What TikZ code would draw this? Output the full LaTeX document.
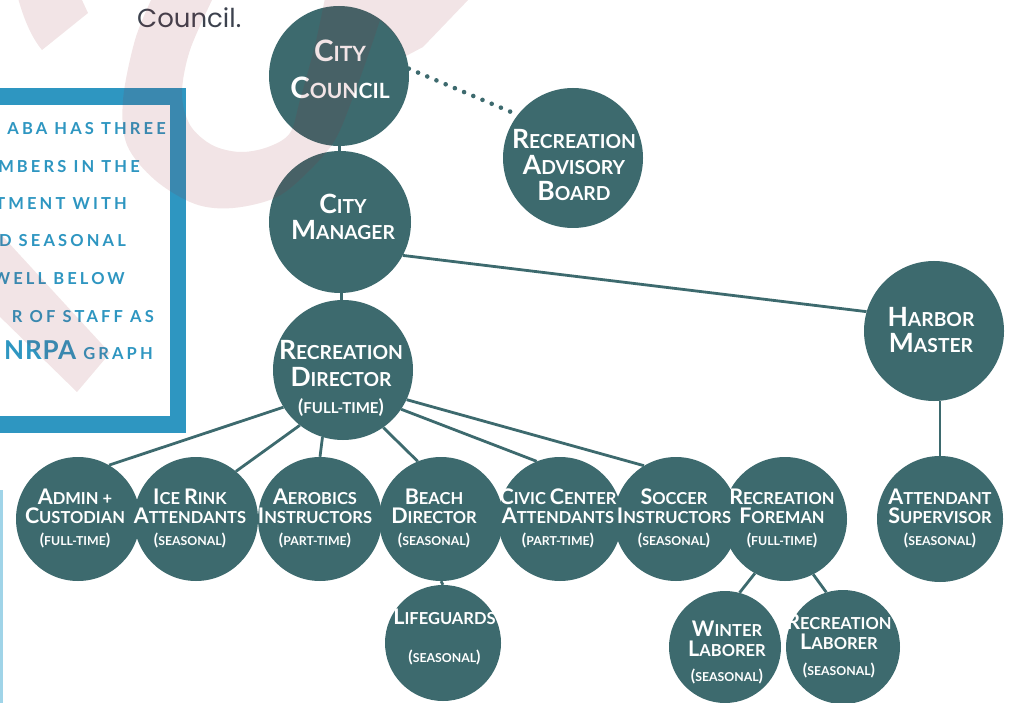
\documentclass[tikz,border=0pt]{standalone}
\usepackage{fontspec}
\setmainfont{Lato}
\newfontfamily\poppinsfont{Poppins}
\definecolor{nodeteal}{RGB}{61,106,110}
\definecolor{boxblue}{RGB}{46,150,193}
\definecolor{barblue}{RGB}{160,212,232}
\definecolor{pinkink}{RGB}{150,40,50}
\definecolor{councilgray}{RGB}{60,66,78}
\newcommand\tsc[2]{{\fontsize{26.5}{26.5}\selectfont #1}{\fontsize{19.3}{19.3}\selectfont #2}}
\newcommand\ccsc[2]{{\fontsize{29.5}{29.5}\selectfont #1}{\fontsize{21}{21}\selectfont #2}}
\newcommand\bsc[2]{{\fontsize{21.5}{21.5}\selectfont #1}{\fontsize{16.5}{16.5}\selectfont #2}}
\newcommand\tsub[1]{{\fontsize{19}{19}\selectfont(}{\fontsize{15}{15}\selectfont #1}{\fontsize{19}{19}\selectfont)}}
\newcommand\bsub[1]{{\fontsize{16}{16}\selectfont(}{\fontsize{12.3}{12.3}\selectfont #1}{\fontsize{16}{16}\selectfont)}}
\begin{document}
\begin{tikzpicture}[x=1pt,y=-1pt,
  circ/.style={circle, fill=nodeteal, draw=none, inner sep=0pt},
  toptxt/.style={text=white, align=center, inner sep=0pt, font=\bfseries\fontsize{19.3}{26}\selectfont},
  bottxt/.style={text=white, align=center, inner sep=0pt, font=\bfseries\fontsize{16.5}{19.5}\selectfont},
  conn/.style={draw=nodeteal, line width=2.8pt},
  dotconn/.style={draw=nodeteal, line width=4.6pt, line cap=round, dash pattern=on 0pt off 10pt},
  boxtxt/.style={text=boxblue, inner sep=0pt, anchor=base east, font=\bfseries\fontsize{16.5}{16.5}\selectfont\addfontfeature{LetterSpace=19}},
  band/.style={fill=pinkink, fill opacity=0.12, draw=none}
]
\useasboundingbox (0,0) rectangle (1009,703);
\fill[white] (0,0) rectangle (1009,703);

% left text box
\draw[boxblue, line width=16.5pt] (-20,96.5) rectangle (178,424.5);
\node[boxtxt] (b1) at (166,135) {ABA HAS THREE};
\node[boxtxt] (b2) at (140,173) {MBERS IN THE};
\node[boxtxt] (b3) at (127,210) {TMENT WITH};
\node[boxtxt] (b4) at (126,247) {D SEASONAL};
\node[boxtxt] (b5) at (125,285) {WELL BELOW};
\node[boxtxt] (b6) at (154,322) {R OF STAFF AS};
\node[boxtxt] (b7) at (153,359) {{\fontsize{26}{26}\selectfont\addfontfeature{LetterSpace=3}NRPA} GRAPH};
\fill[barblue] (0,490) rectangle (2.5,705);

\node[anchor=base west, inner sep=0pt, text=councilgray, font=\poppinsfont\fontsize{26}{26}\selectfont] (council) at (137,28) {Council.};

% circles
\node[circ, minimum size=140pt] (cc) at (339,76) {};
\node[circ, minimum size=142pt] (cm) at (340,222) {};
\node[circ, minimum size=140pt] (rab) at (573,158) {};
\node[circ, minimum size=140pt] (hm) at (934,331) {};
\node[circ, minimum size=140pt] (rd) at (343,370) {};
\node[circ, minimum size=124pt] (admin) at (78,519) {};
\node[circ, minimum size=124pt] (ice) at (196,519) {};
\node[circ, minimum size=124pt] (aer) at (320,519) {};
\node[circ, minimum size=124pt] (beach) at (441,519) {};
\node[circ, minimum size=124pt] (civic) at (560,519) {};
\node[circ, minimum size=124pt] (soccer) at (676,519) {};
\node[circ, minimum size=124pt] (foreman) at (785,519) {};
\node[circ, minimum size=126pt] (attsup) at (940,519) {};
\node[circ, minimum size=116pt] (life) at (443,643) {};
\node[circ, minimum size=112pt] (winter) at (725,647) {};
\node[circ, minimum size=114pt] (reclab) at (843,647) {};

% texts
\node[toptxt, font=\bfseries\fontsize{21}{37}\selectfont] (cc-t) at (340,69) {\ccsc{C}{ITY}\\\ccsc{C}{OUNCIL}};
\node[toptxt] (cm-t) at (343,217) {\tsc{C}{ITY}\\\tsc{M}{ANAGER}};
\node[toptxt] (rab-t) at (574,164.5) {\tsc{R}{ECREATION}\\\tsc{A}{DVISORY}\\\tsc{B}{OARD}};
\node[toptxt] (hm-t) at (931,329.5) {\tsc{H}{ARBOR}\\\tsc{M}{ASTER}};
\node[toptxt, font=\bfseries\fontsize{19.3}{27}\selectfont] (rd-t) at (341,378.5) {\tsc{R}{ECREATION}\\\tsc{D}{IRECTOR}\\\tsub{FULL-TIME}};

\node[bottxt] (admin-t) at (75,518.5) {\bsc{A}{DMIN +}\\\bsc{C}{USTODIAN}\\[2.5pt]\bsub{FULL-TIME}};
\node[bottxt] (ice-t) at (190,518.5) {\bsc{I}{CE} \bsc{R}{INK}\\\bsc{A}{TTENDANTS}\\[2.5pt]\bsub{SEASONAL}};
\node[bottxt] (aer-t) at (315,518.5) {\bsc{A}{EROBICS}\\\bsc{I}{NSTRUCTORS}\\[2.5pt]\bsub{PART-TIME}};
\node[bottxt] (beach-t) at (434,518.5) {\bsc{B}{EACH}\\\bsc{D}{IRECTOR}\\[2.5pt]\bsub{SEASONAL}};
\node[bottxt] (civic-t) at (558,518.5) {\bsc{C}{IVIC} \bsc{C}{ENTER}\\\bsc{A}{TTENDANTS}\\[2.5pt]\bsub{PART-TIME}};
\node[bottxt] (soccer-t) at (674,518.5) {\bsc{S}{OCCER}\\\bsc{I}{NSTRUCTORS}\\[2.5pt]\bsub{SEASONAL}};
\node[bottxt] (foreman-t) at (782,518.5) {\bsc{R}{ECREATION}\\\bsc{F}{OREMAN}\\[2.5pt]\bsub{FULL-TIME}};
\node[bottxt] (attsup-t) at (940,518.5) {\bsc{A}{TTENDANT}\\\bsc{S}{UPERVISOR}\\[2.5pt]\bsub{SEASONAL}};
\node[bottxt] (life-t) at (444.5,636.5) {\bsc{L}{IFEGUARDS}\\[18.5pt]\bsub{SEASONAL}};
\node[bottxt, font=\bfseries\fontsize{16.5}{20}\selectfont] (winter-t) at (727,652) {\bsc{W}{INTER}\\\bsc{L}{ABORER}\\[5pt]\bsub{SEASONAL}};
\node[bottxt, font=\bfseries\fontsize{16.5}{20}\selectfont] (reclab-t) at (839,645.5) {\bsc{R}{ECREATION}\\\bsc{L}{ABORER}\\[6pt]\bsub{SEASONAL}};

% connectors
\draw[conn] (cc) -- (cm);
\draw[conn] (cm) -- (rd);
\draw[dotconn] (cc.6) -- (rab.142.5);
\draw[conn] (cm.332) -- (hm.164);
\draw[conn] (attsup.north) -- (attsup.north |- hm.south);
\draw[conn] (rd.212) -- (admin.60);
\draw[conn] (rd.232) -- (ice.50);
\draw[conn] (rd.253) -- (aer.90);
\draw[conn] (rd.305) -- (beach.112);
\draw[conn] (rd.326) -- (civic.112);
\draw[conn] (rd.335) -- (soccer.121);
\draw[conn] (beach.south) -- (life.north);
\draw[conn] (foreman.241) -- (winter.75);
\draw[conn] (foreman.297) -- (reclab.107);

% decorative pink background shapes (drawn translucent over everything)
\fill[band] plot[smooth, tension=0.55] coordinates {(152,-2) (135,40) (123,100) (127,145) (155,180) (195,204) (233,208) (277,197) (310,170) (335,140) (352,100) (370,50) (380,20)} -- (393,32) -- (400,42) -- (406,56) -- (423,47) -- (470,-2) -- (325,-2) -- plot[smooth, tension=0.55] coordinates {(325,-2) (315,45) (300,100) (290,133) (268,147) (240,152) (212,145) (190,125) (182,93) (190,50) (213,-2)} -- cycle;
\fill[band] (18,-2) .. controls (24,20) and (32,38) .. (42,50) -- (88,13) -- (81,-2) -- cycle;
\fill[band] (-5,228) -- (110,353) -- (77,392) -- (-5,312) -- cycle;
\end{tikzpicture}
\end{document}
